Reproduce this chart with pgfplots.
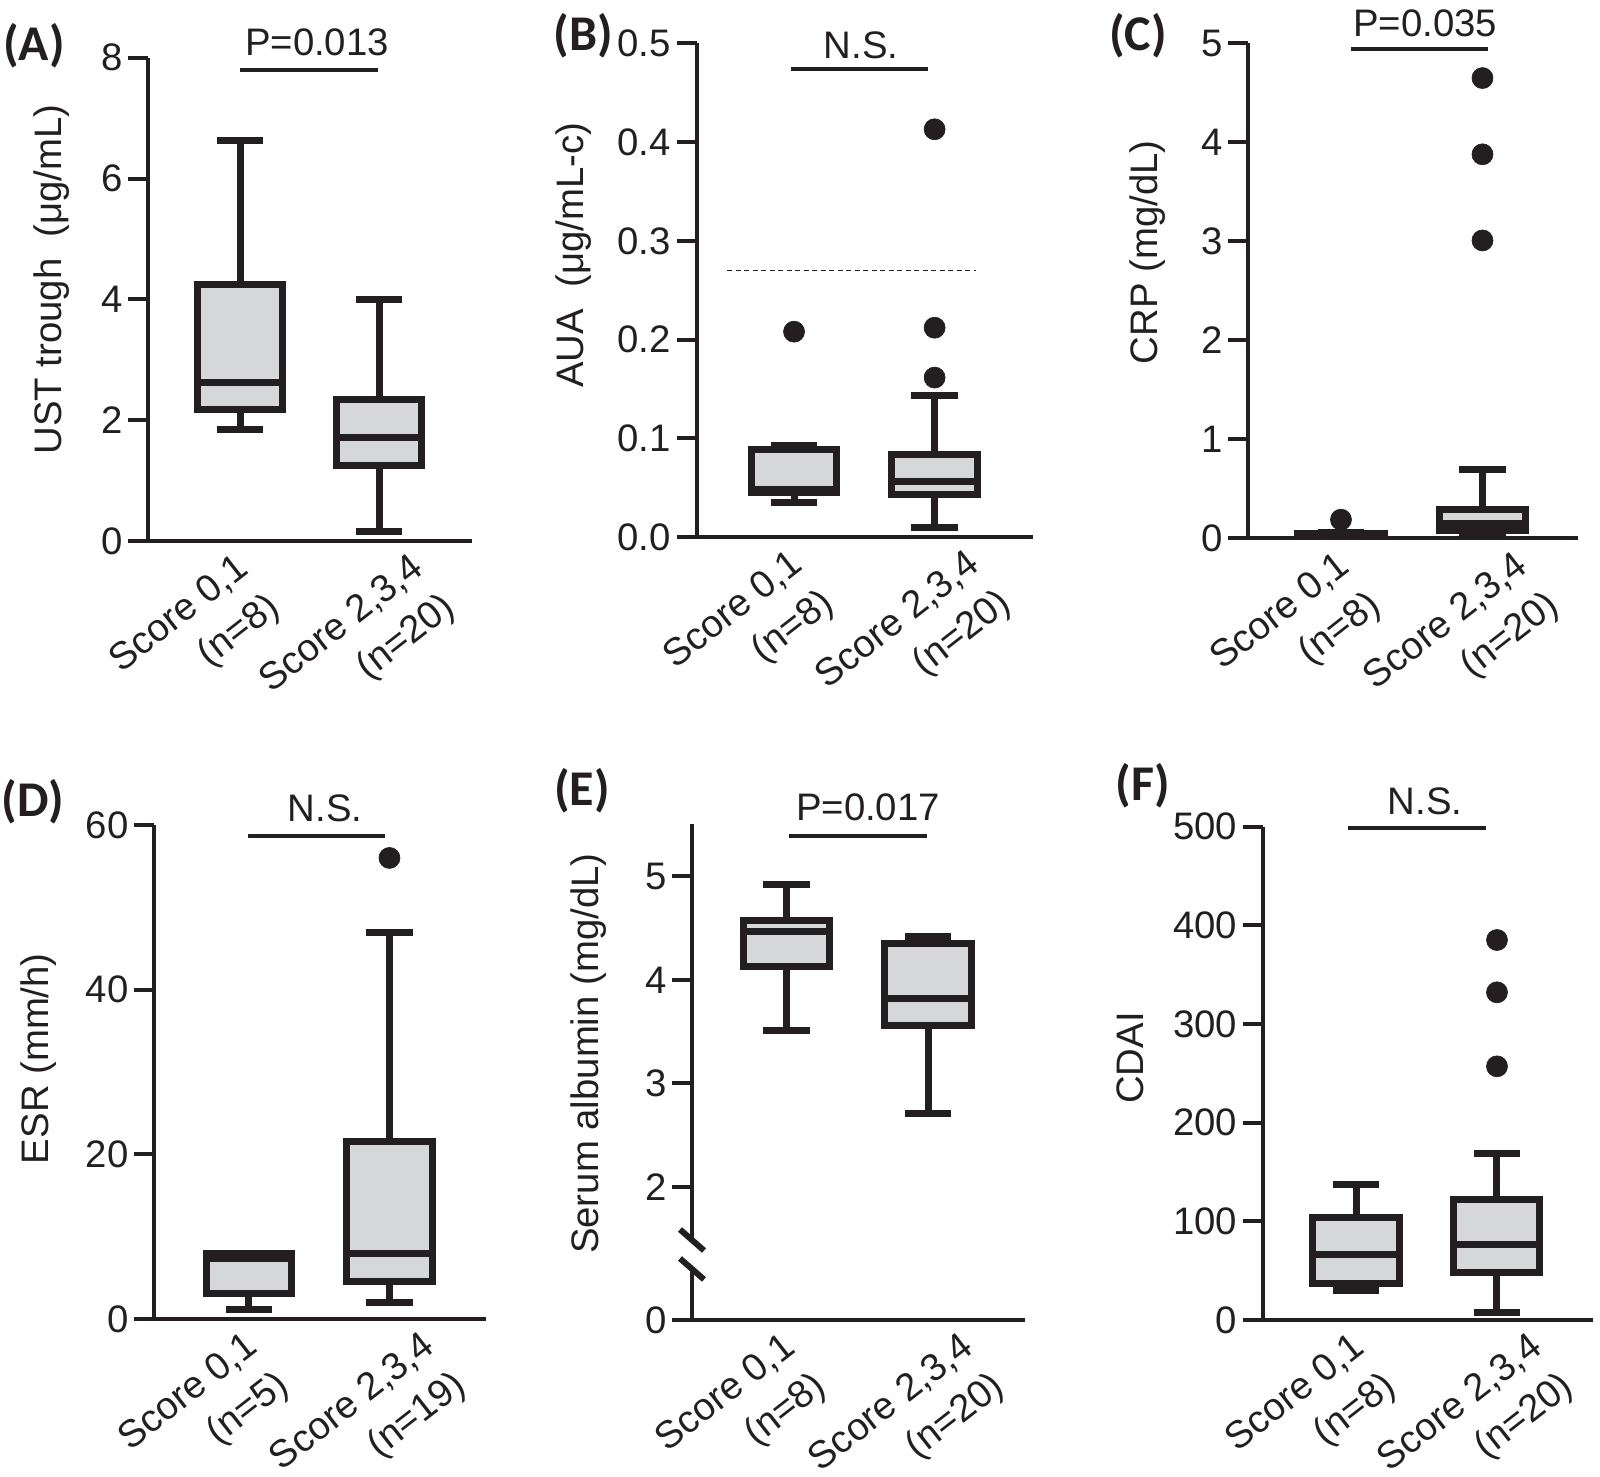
\documentclass[border=0pt]{standalone}
\usepackage{pgfplots}
\pgfplotsset{compat=1.18}
\usepgfplotslibrary{statistics}
\usepackage{fontspec}
\setmainfont{Liberation Sans}
\newfontfamily\panelfont{Carlito}
\definecolor{dk}{RGB}{35,31,32}
\definecolor{bx}{RGB}{214,215,217}
\newcommand{\fs}{\fontsize{11.5}{13.8}\selectfont}
\newcommand{\fx}{\fontsize{11.5}{15}\selectfont}
\newcommand{\pf}{\panelfont\bfseries\fontsize{15}{17}\selectfont}
\tikzset{sig/.style={line width=1.2pt, dk}}
\pgfplotsset{
  panel/.style={
    scale only axis, clip=false,
    axis x line=bottom, axis y line=left,
    axis line style={-, line width=1.2pt, dk},
    xtick={1,2.26},
    tick align=outside,
    major tick length=6pt,
    ytick style={line width=1.2pt, dk},
    xtick style={draw=none},
    tick label style={font=\fs, text=dk},
    yticklabel style={inner sep=1.5pt},
    xticklabel style={font=\fx, xshift=-1.6pt, yshift=4.6pt, rotate=38, anchor=north east, align=right, inner sep=1pt},
    ylabel style={font=\fs, text=dk, anchor=center},
  },
  bp/.style={boxplot/draw direction=y, boxplot prepared={#1, box extend=0.61, whisker extend=0.33},
     draw=dk, fill=bx, line width=2.1pt, mark=*, mark size=3.15pt,
     mark options={fill=dk, draw=dk, line width=0.2pt, solid}},
}
\begin{document}
\begin{tikzpicture}
\path[use as bounding box] (0,0) rectangle (480pt,442.8pt);

% ---------------- A ----------------
\begin{axis}[panel, at={(44.4pt,280.5pt)}, anchor=south west, width=97.2pt, height=145pt,
  xmin=0.338, xmax=2.669, ymin=0, ymax=8,
  ytick={0,2,4,6,8}, yticklabels={0,2,4,6,8},
  xticklabels={{Score 0,1\\(n=8)},{Score 2,3,4\\(n=20)}},
  ylabel={UST trough\ \ (μg/mL)}, ylabel style={at={(axis description cs:-0.299,0.541)}}]
\addplot[bp={draw position=1, lower whisker=1.84, lower quartile=2.17, median=2.62, upper quartile=4.25, upper whisker=6.63}] coordinates {};
\addplot[bp={draw position=2, lower whisker=0.15, lower quartile=1.245, median=1.71, upper quartile=2.34, upper whisker=3.99}] coordinates {};
\draw[sig] (axis cs:1,7.8) -- (axis cs:1.99,7.8);
\end{axis}

% ---------------- B ----------------
\begin{axis}[panel, at={(208.95pt,281.7pt)}, anchor=south west, width=100.95pt, height=148.08pt,
  xmin=0.306, xmax=2.70, ymin=0, ymax=0.5,
  ytick={0,0.1,0.2,0.3,0.4,0.5}, yticklabels={0.0,0.1,0.2,0.3,0.4,0.5},
  xticklabels={{Score 0,1\\(n=8)},{Score 2,3,4\\(n=20)}},
  ylabel={AUA\ \ (μg/mL-c)}, ylabel style={at={(axis description cs:-0.364,0.571)}}]
\addplot[bp={draw position=1, lower whisker=0.035, lower quartile=0.0455, median=0.048, upper quartile=0.089, upper whisker=0.093}] table[row sep=\\, y index=0] {data\\ 0.208\\};
\addplot[bp={draw position=2, lower whisker=0.0101, lower quartile=0.0426, median=0.0567, upper quartile=0.0835, upper whisker=0.1435}] table[row sep=\\, y index=0] {data\\ 0.413\\ 0.212\\ 0.1615\\};
\draw[line width=0.45pt, dk, dash pattern=on 1.5pt off 1.05pt] (axis cs:0.523,0.27) -- (axis cs:2.295,0.27);
\draw[sig] (axis cs:0.98,0.474) -- (axis cs:1.95,0.474);
\end{axis}

% ---------------- C ----------------
\begin{axis}[panel, at={(374.4pt,281.25pt)}, anchor=south west, width=99pt, height=148.53pt,
  xmin=0.343, xmax=2.675, ymin=0, ymax=5,
  ytick={0,1,2,3,4,5}, yticklabels={0,1,2,3,4,5},
  xticklabels={{Score 0,1\\(n=8)},{Score 2,3,4\\(n=20)}},
  ylabel={CRP (mg/dL)}, ylabel style={at={(axis description cs:-0.303,0.578)}}]
\addplot[bp={draw position=1, lower whisker=0.04, lower quartile=0.045, median=0.05, upper quartile=0.055, upper whisker=0.06}] table[row sep=\\, y index=0] {data\\ 0.19\\};
\addplot[bp={draw position=2, lower whisker=0.03, lower quartile=0.081, median=0.147, upper quartile=0.293, upper whisker=0.70}] table[row sep=\\, y index=0] {data\\ 4.65\\ 3.88\\ 3.01\\};
\draw[sig] (axis cs:1.07,4.94) -- (axis cs:2.04,4.94);
\end{axis}

% ---------------- D ----------------
\begin{axis}[panel, at={(46.2pt,47.1pt)}, anchor=south west, width=99.6pt, height=148.2pt,
  xmin=0.324, xmax=2.687, ymin=0, ymax=60,
  ytick={0,20,40,60}, yticklabels={0,20,40,60},
  xticklabels={{Score 0,1\\(n=5)},{Score 2,3,4\\(n=19)}},
  ylabel={ESR (mm/h)}, ylabel style={at={(axis description cs:-0.349,0.527)}}]
\addplot[bp={draw position=1, lower whisker=1.1, lower quartile=3.06, median=7.3, upper quartile=8.0, upper whisker=8.0}] coordinates {};
\addplot[bp={draw position=2, lower whisker=2.0, lower quartile=4.5, median=7.95, upper quartile=21.6, upper whisker=47.0}] table[row sep=\\, y index=0] {data\\ 56.0\\};
\draw[sig] (axis cs:0.99,58.7) -- (axis cs:1.97,58.7);
\end{axis}

% ---------------- E ----------------
\begin{axis}[panel, at={(207.6pt,46.8pt)}, anchor=south west, width=99.75pt, height=148.8pt,
  xmin=0.332, xmax=2.682, ymin=0.715, ymax=5.507,
  ytick={0.715,2,3,4,5}, yticklabels={0,2,3,4,5},
  xticklabels={{Score 0,1\\(n=8)},{Score 2,3,4\\(n=20)}},
  ylabel={Serum albumin (mg/dL)}, ylabel style={at={(axis description cs:-0.310,0.537)}}]
\addplot[bp={draw position=1, lower whisker=3.51, lower quartile=4.13, median=4.47, upper quartile=4.57, upper whisker=4.92}] coordinates {};
\addplot[bp={draw position=2, lower whisker=2.71, lower quartile=3.56, median=3.82, upper quartile=4.35, upper whisker=4.42}] coordinates {};
\draw[sig] (axis cs:1.02,5.394) -- (axis cs:1.99,5.394);
\fill[white] ([xshift=-2pt]axis cs:0.332,1.208) rectangle ([xshift=2pt]axis cs:0.332,1.488);
\draw[line width=1.8pt, dk] ([xshift=-3.6pt,yshift=3.15pt]axis cs:0.332,1.488) -- ([xshift=3.6pt,yshift=-3.15pt]axis cs:0.332,1.488);
\draw[line width=1.8pt, dk] ([xshift=-3.6pt,yshift=3.15pt]axis cs:0.332,1.208) -- ([xshift=3.6pt,yshift=-3.15pt]axis cs:0.332,1.208);
\end{axis}

% ---------------- F ----------------
\begin{axis}[panel, at={(378.84pt,46.8pt)}, anchor=south west, width=99.06pt, height=148.05pt,
  xmin=0.339, xmax=2.681, ymin=0, ymax=500,
  ytick={0,100,200,300,400,500}, yticklabels={0,100,200,300,400,500},
  xticklabels={{Score 0,1\\(n=8)},{Score 2,3,4\\(n=20)}},
  ylabel={CDAI}, ylabel style={at={(axis description cs:-0.402,0.531)}}]
\addplot[bp={draw position=1, lower whisker=29.5, lower quartile=37, median=66.8, upper quartile=103.5, upper whisker=136.8}] coordinates {};
\addplot[bp={draw position=2, lower whisker=7.3, lower quartile=48.6, median=77, upper quartile=122.6, upper whisker=169}] table[row sep=\\, y index=0] {data\\ 385\\ 332\\ 257\\};
\draw[sig] (axis cs:0.94,498) -- (axis cs:1.92,498);
\end{axis}

% ---------------- texts ----------------
\begin{scope}[x=0.3pt, y=-0.3pt, yshift=442.8pt]
\node[font=\fs, text=dk] at (317,42) {P=0.013};
\node[font=\fs, text=dk] at (861,45) {N.S.};
\node[font=\fs, text=dk] at (1425,23) {P=0.035};
\node[font=\fs, text=dk] at (325,808) {N.S.};
\node[font=\fs, text=dk] at (868,807) {P=0.017};
\node[font=\fs, text=dk] at (1425,801) {N.S.};
\node[font=\pf, text=dk] at (34,46) {(A)};
\node[font=\pf, text=dk] at (583,36) {(B)};
\node[font=\pf, text=dk] at (1138,36) {(C)};
\node[font=\pf, text=dk] at (33,802) {(D)};
\node[font=\pf, text=dk] at (582,791) {(E)};
\node[font=\pf, text=dk] at (1143,786) {(F)};
\end{scope}
\end{tikzpicture}
\end{document}
